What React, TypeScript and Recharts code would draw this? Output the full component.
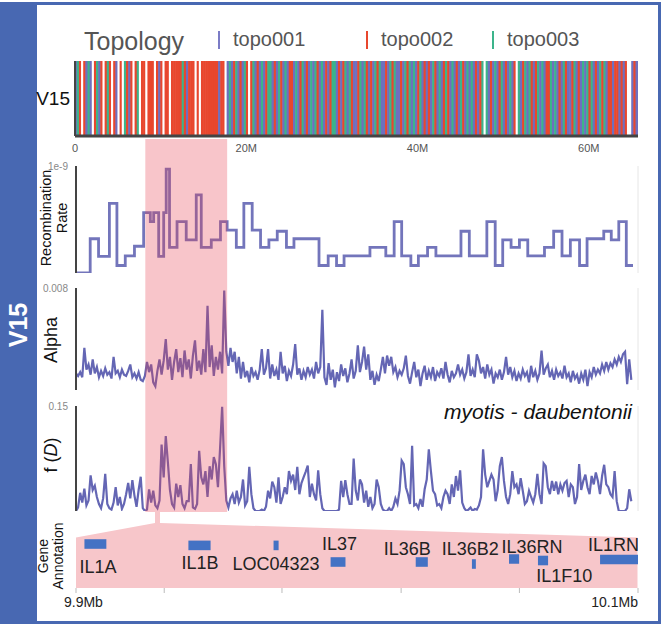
import React from 'react';
import {
  ComposedChart,
  Bar,
  Cell,
  Line,
  Scatter,
  XAxis,
  YAxis,
  CartesianGrid,
  ReferenceArea,
} from 'recharts';

// ---- topology barcode (one code per 0.25 Mb window: 0 none, 1 topo001, 2 topo002, 3 topo003)
const TOPO_STEP = 0.25;
const TOPOLOGY_CODES = [
  '132021310231',
  '20232021020321202302',
  '2022202120220',
  '2222',
  '23212',
  '2202022',
  '222222122',
  '0',
  '1312312132',
  '0231213123',
  '3121321312',
  '2131231213',
  '1321312123',
  '3121231321',
  '1231321213',
  '2311213231',
  '1213231312',
  '3121213213',
  '1232131213',
  '2131312123',
  '0312131231',
  '2131203123',
  '1321231312',
  '2313121321',
  '1231213132',
  '31213231',
  '22122121200121',
]
  .join('')
  .split('')
  .map(Number);
const TOPO_NAMES = ['topo001', 'topo002', 'topo003'];
const TOPO_TICKS = [0, 20, 40, 60];

// ---- recombination rate (step starts in Mb, rate in 1e-9)
const RECOMB_START = [
  0, 1.7, 2.7, 4.0, 4.9, 5.9, 7.0, 8.1, 8.9, 9.3, 9.9, 10.5, 10.8, 11.2, 12.1,
  13.2, 14.4, 15.0, 16.2, 17.3, 18.1, 19.2, 20.1, 21.1, 22.1, 23.1, 24.1, 25.2,
  26.1, 29.1, 30.2, 31.2, 32.1, 35.2, 37.1, 38.1, 39.0, 40.1, 41.0, 42.1, 43.1,
  46.1, 47.1, 49.2, 50.2, 51.1, 52.1, 53.1, 54.1, 56.1, 57.2, 58.2, 59.2, 60.3,
  61.2, 63.2, 64.1, 65.0, 65.9, 66.7,
];
const RECOMB_RATE = [
  0, 0.32, 0.155, 0.65, 0.07, 0.16, 0.25, 0.565, 0.48, 0.565, 0.155, 0.565,
  0.97, 0.24, 0.48, 0.31, 0.73, 0.24, 0.31, 0.48, 0.4, 0.24, 0.65, 0.4, 0.24,
  0.31, 0.39, 0.24, 0.32, 0.07, 0.16, 0.07, 0.16, 0.24, 0.16, 0.48, 0.16, 0.07,
  0.16, 0.24, 0.16, 0.39, 0.16, 0.48, 0.07, 0.31, 0.24, 0.31, 0.16, 0.24, 0.39,
  0.16, 0.31, 0.07, 0.32, 0.39, 0.31, 0.48, 0.07, 0.07,
];

// ---- alpha (units of 1e-3) and f(D), one value per 0.25 Mb
const WIN_STEP = 0.25;
const ALPHA_E3 = [
  1.3, 1.1, 1.4, 1.0, 3.3, 1.6, 2.0, 1.2, 2.4, 1.3, 1.8, 1.0, 1.5, 1.1, 1.7, 1.2, 1.4, 0.9, 2.6, 1.3,
  1.5, 1.0, 1.6, 1.2, 1.1, 1.5, 2.0, 1.0, 1.3, 0.9, 1.4, 0.8, 0.7, 1.1, 2.2, 1.4, 2.0, 0.6, 0.3, 1.5,
  2.4, 1.2, 2.3, 4.0, 1.6, 2.6, 0.8, 2.2, 3.2, 1.4, 2.5, 1.0, 3.1, 1.6, 2.4, 0.9, 2.7, 3.9, 1.5, 2.3,
  1.2, 3.2, 1.4, 6.6, 1.8, 3.5, 1.1, 2.6, 1.6, 3.0, 1.3, 7.8, 3.0, 1.9, 3.3, 2.2, 3.0, 1.3, 2.6, 0.9,
  2.2, 1.0, 1.5, 0.6, 1.8, 1.1, 1.4, 0.8, 1.6, 3.2, 1.2, 1.7, 3.2, 0.9, 2.0, 1.1, 1.6, 0.8, 3.0, 1.3,
  1.9, 0.7, 1.5, 1.1, 2.0, 3.6, 1.2, 1.7, 0.8, 1.5, 1.0, 1.8, 1.2, 1.6, 0.9, 2.2, 1.3, 1.8, 6.3, 1.0,
  0.4, 2.1, 0.8, 1.6, 0.2, 1.4, 0.7, 2.0, 1.1, 1.7, 0.6, 1.3, 2.4, 0.9, 1.5, 3.5, 1.4, 2.2, 3.4, 1.6,
  2.8, 0.8, 1.5, 0.4, 1.2, 0.7, 1.6, 2.6, 1.3, 2.7, 1.9, 2.6, 1.4, 1.8, 1.0, 1.5, 1.2, 1.7, 2.7, 1.1,
  0.5, 1.4, 2.2, 1.0, 1.6, 0.3, 1.3, 1.9, 0.8, 1.5, 1.0, 1.8, 0.7, 1.4, 1.1, 1.7, 0.9, 2.2, 1.2, 0.6,
  1.5, 1.0, 1.3, 2.0, 1.2, 1.6, 0.9, 1.4, 2.8, 1.1, 1.6, 1.0, 2.8, 2.3, 1.3, 1.8, 0.9, 2.0, 1.2, 1.6,
  0.5, 1.3, 1.0, 1.6, 0.8, 1.4, 2.6, 1.2, 1.8, 1.0, 1.5, 0.7, 1.3, 0.9, 1.6, 1.1, 1.4, 0.6, 1.9, 1.0,
  1.5, 0.8, 1.3, 3.1, 1.2, 1.7, 2.0, 1.0, 1.5, 0.8, 1.6, 1.1, 1.4, 0.9, 1.9, 1.0, 1.3, 0.6, 1.5, 0.9,
  1.2, 0.5, 1.3, 0.8, 1.6, 0.3, 1.4, 1.0, 1.8, 1.2, 1.6, 1.3, 2.0, 1.5, 2.2, 1.6, 2.1, 1.8, 2.4, 2.0,
  2.6, 2.2, 2.8, 3.0, 0.45, 2.4, 0.8,
];
const FD = [
  0, 0.005, 0.026, 0.012, 0.032, 0.008, 0.015, 0.051, 0.03, 0.036, 0.02, 0.01, 0.004, 0.018, 0.053, 0.01, 0.004, 0.002, 0.012, 0.034,
  0.008, 0.02, 0.003, 0.01, 0.024, 0.04, 0.018, 0.044, 0.022, 0.006, 0.03, 0.049, 0.004, 0, 0.002, 0.031, 0.012, 0.029, 0.008, 0.004,
  0.015, 0.095, 0.048, 0.107, 0.07, 0.03, 0.01, 0.005, 0.039, 0.02, 0.037, 0.01, 0.004, 0.014, 0.014, 0.067, 0.005, 0.003, 0.01, 0.086,
  0.048, 0.038, 0.057, 0.02, 0.064, 0.045, 0.077, 0.067, 0.034, 0.089, 0.149, 0.064, 0.015, 0.005, 0.018, 0.024, 0.01, 0.029, 0.012, 0.02,
  0.045, 0.008, 0.014, 0.063, 0.024, 0.004, 0, 0, 0, 0.002, 0, 0.006, 0.029, 0.018, 0.042, 0.034, 0.012, 0.048, 0.01, 0.02,
  0.034, 0.024, 0.057, 0.043, 0.052, 0.03, 0.063, 0.024, 0.04, 0.048, 0.056, 0.065, 0.02, 0.039, 0.024, 0.015, 0.058, 0.024, 0.004, 0,
  0, 0, 0, 0, 0, 0, 0.002, 0.043, 0.02, 0.044, 0.024, 0.01, 0.01, 0.075, 0.029, 0.015, 0.045, 0.038, 0.012, 0.029,
  0.006, 0.02, 0.004, 0.01, 0.045, 0.034, 0.01, 0.002, 0, 0, 0.004, 0, 0.006, 0.018, 0.01, 0.029, 0.072, 0.067, 0.034, 0.024,
  0.01, 0.093, 0.008, 0.01, 0.004, 0.017, 0.006, 0.031, 0.045, 0.088, 0.057, 0.029, 0.024, 0.008, 0.01, 0.004, 0.02, 0.029, 0.024, 0.01,
  0.038, 0.02, 0.05, 0.029, 0.058, 0.012, 0.004, 0, 0.002, 0.005, 0, 0.003, 0.002, 0.008, 0.02, 0.088, 0.052, 0.034, 0.043, 0.052,
  0.045, 0.014, 0.03, 0.064, 0.077, 0.043, 0.02, 0.01, 0.024, 0.057, 0.034, 0.038, 0.024, 0.047, 0.029, 0.01, 0.014, 0.029, 0.02, 0.012,
  0.024, 0.053, 0.024, 0.01, 0.068, 0.064, 0.034, 0.024, 0.043, 0.029, 0.042, 0.024, 0.038, 0.029, 0.04, 0.043, 0.02, 0.038, 0.034, 0.01,
  0.02, 0.067, 0.03, 0.043, 0.052, 0.034, 0.024, 0.05, 0.038, 0.055, 0.043, 0.024, 0.05, 0.066, 0.038, 0.034, 0.024, 0.02, 0.057, 0.014,
  0, 0, 0, 0, 0.004, 0.031, 0.014,
];
const LOWER_MAX = 67.3;
const GRID_TICKS = [10, 20, 30, 40, 50, 60];
const HIGHLIGHT = [8.3, 18.1];

// ---- gene annotation (Mb), lanes are track heights (-8..60)
const GENE_NAMES = ['IL1A', 'IL1B', 'LOC04323', 'IL37', 'IL36B', 'IL36B2', 'IL36RN', 'IL1F10', 'IL1RN'];
const GENE_START = [9.903, 9.94, 9.9703, 9.9906, 10.0209, 10.0409, 10.0541, 10.0644, 10.0865];
const GENE_END = [9.9108, 9.9479, 9.9721, 9.9959, 10.0252, 10.0423, 10.0577, 10.068, 10.1];
const GENE_LANE = [36, 34.6, 34.6, 18, 18, 16, 21, 19.5, 20.5];
const LABEL_POS = [9.9078, 9.9441, 9.9712, 9.9938, 10.0179, 10.0403, 10.0623, 10.0738, 10.0913];
const LABEL_LANE = [13, 17, 16, 35.6, 31, 31, 33, 4, 35];
const GENE_TICKS = [9.9, 9.9314, 9.9733, 10.0157, 10.0578, 10.1];
const GENE_TICK_LABELS = ['9.9Mb', '', '', '', '', '10.1Mb'];

const BLUE = '#4868b2';
const LINE = '#6466b4';
const AXIS = '#444';
const TOPO_COLORS = ['#ffffff', '#6e6fbf', '#e8472e', '#3cb48b'];
const LEGEND_COLORS = ['#7b7cc6', '#e8472e', '#3cb48b'];
const FONT = "'Liberation Sans', Arial, sans-serif";

const topoRows = TOPOLOGY_CODES.map((code, i) => ({
  pos: i * TOPO_STEP + TOPO_STEP / 2,
  h: 1,
  code,
}));
const recombRows = RECOMB_START.map((pos, i) => ({ pos, v: RECOMB_RATE[i] }));
const alphaRows = ALPHA_E3.map((v, i) => ({ pos: i * WIN_STEP, v }));
const fdRows = FD.map((v, i) => ({ pos: i * WIN_STEP, v }));
const labelRows = GENE_NAMES.map((name, i) => ({ x: LABEL_POS[i], y: LABEL_LANE[i], name }));

function SideLabel({ x, y, size, children }: { x: number; y: number; size: number; children: React.ReactNode }) {
  return (
    <div
      style={{
        position: 'absolute',
        left: x,
        top: y,
        transform: 'translate(-50%, -50%) rotate(-90deg)',
        fontSize: size,
        lineHeight: 1.1,
        whiteSpace: 'nowrap',
        textAlign: 'center',
        color: '#111',
      }}
    >
      {children}
    </div>
  );
}

// stripe: widen each bar a little so neighbouring windows touch
function Stripe(props: any) {
  const { x, y, width, height, fill } = props;
  return <rect x={x - 0.35} y={y} width={width + 0.7} height={height} fill={fill} />;
}

function Panel({
  top,
  height,
  data,
  yMax,
  topLabel,
  step,
  width,
}: {
  top: number;
  height: number;
  data: { pos: number; v: number }[];
  yMax: number;
  topLabel: string;
  step?: boolean;
  width: number;
}) {
  return (
    <div style={{ position: 'absolute', left: 0, top }}>
      <ComposedChart width={663} height={height} data={data} margin={{ top: 6, right: 25, bottom: 2, left: 0 }}>
        <CartesianGrid horizontal={false} stroke="#e6e6e6" />
        <XAxis
          type="number"
          dataKey="pos"
          domain={[0, LOWER_MAX]}
          ticks={GRID_TICKS}
          tick={false}
          tickLine={false}
          height={0}
          axisLine={{ stroke: AXIS, strokeWidth: 2 }}
          allowDataOverflow
        />
        <YAxis
          type="number"
          domain={[0, yMax]}
          ticks={[yMax]}
          interval={0}
          tickFormatter={() => topLabel}
          tickLine={false}
          width={76}
          tick={{ fontSize: 10, fill: '#888' }}
          axisLine={{ stroke: AXIS, strokeWidth: 2 }}
          allowDataOverflow
        />
        <Line
          type={step ? 'stepAfter' : 'linear'}
          dataKey="v"
          stroke={LINE}
          strokeWidth={width}
          strokeOpacity={step ? 0.9 : 1}
          dot={false}
          isAnimationActive={false}
        />
      </ComposedChart>
    </div>
  );
}

function GeneTick(props: any) {
  const { x, y, index } = props;
  const label = GENE_TICK_LABELS[index];
  if (!label) return null;
  const first = index === 0;
  return (
    <text x={first ? x - 12 : x} y={y + 12} textAnchor={first ? 'start' : 'end'} fontSize={14} fill="#222">
      {label}
    </text>
  );
}

export default function App() {
  return (
    <div
      style={{
        position: 'absolute',
        left: 0,
        top: 0,
        width: 663,
        height: 627,
        background: '#fff',
        fontFamily: FONT,
        overflow: 'hidden',
      }}
    >
      {/* frame */}
      <div
        style={{
          position: 'absolute',
          left: 0,
          top: 2,
          width: 661,
          height: 622,
          border: `3px solid ${BLUE}`,
          boxSizing: 'border-box',
        }}
      />
      <div style={{ position: 'absolute', left: 0, top: 2, width: 37, height: 622, background: BLUE }} />
      <div
        style={{
          position: 'absolute',
          left: 18,
          top: 325,
          transform: 'translate(-50%, -50%) rotate(-90deg)',
          color: '#fff',
          fontWeight: 700,
          fontSize: 25,
        }}
      >
        V15
      </div>

      {/* topology title + legend */}
      <div style={{ position: 'absolute', left: 84, top: 27, fontSize: 25, color: '#555' }}>Topology</div>
      {TOPO_NAMES.map((name, i) => (
        <div key={name} style={{ position: 'absolute', left: [218, 366, 492][i], top: 28 }}>
          <div style={{ position: 'absolute', left: 0, top: 3, width: 2, height: 18, background: LEGEND_COLORS[i] }} />
          <div style={{ position: 'absolute', left: 15, top: 0, fontSize: 20, color: '#555', whiteSpace: 'nowrap' }}>
            {name}
          </div>
        </div>
      ))}
      <div style={{ position: 'absolute', right: 663 - 70, top: 88, fontSize: 19, color: '#111' }}>V15</div>

      {/* topology barcode */}
      <div style={{ position: 'absolute', left: 0, top: 55 }}>
        <ComposedChart
          width={663}
          height={110}
          data={topoRows}
          barCategoryGap={0}
          barGap={0}
          margin={{ top: 6, right: 25, bottom: 5, left: 0 }}
        >
          <XAxis
            type="number"
            dataKey="pos"
            domain={[0, topoRows.length * TOPO_STEP]}
            ticks={TOPO_TICKS}
            tickFormatter={(v: number) => (v === 0 ? '0' : `${v}M`)}
            tickLine={false}
            height={24}
            tick={{ fontSize: 11, fill: '#555' }}
            axisLine={{ stroke: AXIS, strokeWidth: 3 }}
            allowDataOverflow
          />
          <YAxis type="number" domain={[0, 1]} tick={false} tickLine={false} width={75} axisLine={{ stroke: AXIS, strokeWidth: 2 }} />
          <Bar dataKey="h" shape={<Stripe />} isAnimationActive={false}>
            {topoRows.map((r, i) => (
              <Cell key={i} fill={TOPO_COLORS[r.code]} />
            ))}
          </Bar>
          <ReferenceArea x1={61} x2={65.75} y1={0} y2={0.09} fill="#fff" fillOpacity={1} stroke="none" ifOverflow="visible" />
        </ComposedChart>
      </div>

      {/* lower panels */}
      <Panel top={160} height={115} data={recombRows} yMax={1} topLabel="1e-9" step width={2.8} />
      <Panel top={282} height={110} data={alphaRows} yMax={8} topLabel="0.008" width={2.2} />
      <Panel top={400} height={113} data={fdRows} yMax={0.15} topLabel="0.15" width={2.2} />

      <SideLabel x={55} y={218} size={14.5}>
        Recombination
        <br />
        Rate
      </SideLabel>
      <SideLabel x={52} y={340} size={18}>
        Alpha
      </SideLabel>
      <SideLabel x={52} y={455} size={18}>
        f (<i>D</i>)
      </SideLabel>
      <div
        style={{
          position: 'absolute',
          right: 663 - 632,
          top: 400,
          fontSize: 21,
          fontStyle: 'italic',
          color: '#111',
          whiteSpace: 'nowrap',
        }}
      >
        myotis - daubentonii
      </div>

      {/* gene annotation connector */}
      <svg style={{ position: 'absolute', left: 0, top: 0 }} width={663} height={627}>
        <polygon
          points="155,512 160,512 160,523 637.5,537.5 637.5,588 76,588 76,537.5 155,523"
          fill="#f7c6ca"
        />
      </svg>
      <div style={{ position: 'absolute', left: 0, top: 505 }}>
        <ComposedChart width={663} height={118} data={labelRows} margin={{ top: 15, right: 25, bottom: 0, left: 76 }}>
          <XAxis
            type="number"
            dataKey="x"
            domain={[9.9, 10.1]}
            ticks={GENE_TICKS}
            interval={0}
            tick={<GeneTick />}
            tickSize={5}
            tickLine={{ stroke: '#bbb' }}
            axisLine={false}
            height={35}
            allowDataOverflow
          />
          <YAxis type="number" dataKey="y" domain={[-8, 60]} hide width={0} allowDataOverflow />
          {GENE_NAMES.map((name, i) => (
            <ReferenceArea
              key={name}
              x1={GENE_START[i]}
              x2={GENE_END[i]}
              y1={GENE_LANE[i] - 4.8}
              y2={GENE_LANE[i] + 4.8}
              fill="#4472c4"
              fillOpacity={1}
              stroke="none"
            />
          ))}
          <Scatter
            dataKey="y"
            isAnimationActive={false}
            shape={(p: any) => (
              <text x={p.cx} y={p.cy} textAnchor="middle" dominantBaseline="central" fontSize={18} fill="#222">
                {p.payload.name}
              </text>
            )}
          />
        </ComposedChart>
      </div>
      <SideLabel x={51} y={556} size={14}>
        Gene
        <br />
        Annotation
      </SideLabel>

      {/* highlighted region overlay */}
      <div style={{ position: 'absolute', left: 0, top: 139, pointerEvents: 'none' }}>
        <ComposedChart
          width={663}
          height={373}
          data={[{ pos: 0, v: 0 }, { pos: LOWER_MAX, v: 1 }]}
          margin={{ top: 0, right: 25, bottom: 0, left: 76 }}
        >
          <XAxis type="number" dataKey="pos" domain={[0, LOWER_MAX]} hide height={0} allowDataOverflow />
          <YAxis type="number" domain={[0, 1]} hide width={0} allowDataOverflow />
          <ReferenceArea x1={HIGHLIGHT[0]} x2={HIGHLIGHT[1]} y1={0} y2={1} fill="#e8404f" fillOpacity={0.3} stroke="none" />
        </ComposedChart>
      </div>
    </div>
  );
}
